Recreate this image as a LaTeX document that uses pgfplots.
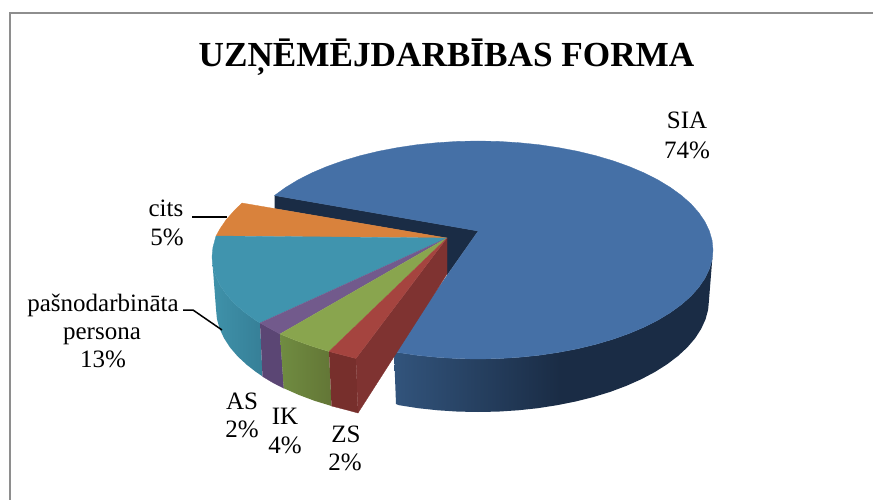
\documentclass[border=0pt]{standalone}
\usepackage{fontspec}
\setmainfont{Liberation Serif}
\usepackage{pgfplots}
\pgfplotsset{compat=1.18}

\definecolor{frame}{HTML}{8E8E8E}
\definecolor{siatop}{HTML}{4570A6}
\definecolor{siaside}{HTML}{32547C}
\definecolor{siadark}{HTML}{1A2C45}
\definecolor{orangetop}{HTML}{D9823C}
\definecolor{tealtop}{HTML}{4094AE}
\definecolor{tealsidea}{HTML}{3F92AA}
\definecolor{tealsideb}{HTML}{367F97}
\definecolor{purpletop}{HTML}{725A8C}
\definecolor{purpleside}{HTML}{5B4674}
\definecolor{greentop}{HTML}{89A54E}
\definecolor{greensidea}{HTML}{708C41}
\definecolor{greensideb}{HTML}{637636}
\definecolor{redtop}{HTML}{A5443F}
\definecolor{redwall}{HTML}{7F3331}
\definecolor{redfront}{HTML}{772F2C}

\pgfdeclarehorizontalshading{siashade}{100bp}{color(0bp)=(siaside); color(25bp)=(siaside); color(51bp)=(siadark); color(100bp)=(siadark)}
\pgfdeclarehorizontalshading{tealshade}{100bp}{color(0bp)=(tealsidea); color(25bp)=(tealsidea); color(75bp)=(tealsideb); color(100bp)=(tealsideb)}
\pgfdeclarehorizontalshading{greenshade}{100bp}{color(0bp)=(greensidea); color(25bp)=(greensidea); color(75bp)=(greensideb); color(100bp)=(greensideb)}

\tikzset{
  lab/.style={anchor=base,inner sep=0pt,font=\fontsize{25}{27}\selectfont},
  ttl/.style={anchor=base,inner sep=0pt,font=\fontsize{35.2}{38}\selectfont\bfseries},
}

\begin{document}
\begin{tikzpicture}
\path[use as bounding box] (0,0) rectangle (873pt,500pt);
\begin{axis}[
  at={(0,0)},
  anchor=south west,
  width=873pt,
  height=500pt,
  scale only axis,
  xmin=0,xmax=873,
  ymin=0,ymax=500,
  y dir=reverse,
  hide axis,
]
% frame
\addplot[frame,line width=2pt] coordinates {(10,500) (10,13) (873,13)};

% SIA: inner wall, outer side, top
\addplot[fill=siadark,draw=siadark,line width=0.3pt] coordinates {(274.5,195.5) (478,231) (447,275) (447,238) (274.5,208.5)};
\addplot[draw=none,shading=siashade] coordinates {
  (394,351) (397.6,352.4) (417.2,355.3) (437.2,357.3) (457.5,358.6) (478,359) (498.5,358.6) (518.8,357.3)
  (538.8,355.3) (558.4,352.4) (577.3,348.8) (595.5,344.4) (612.8,339.3) (629.1,333.5) (644.2,327.1)
  (658,320.1) (670.5,312.5) (681.5,304.5) (691,296.1) (698.8,287.3) (705,278.2) (709.4,268.9) (712.1,259.5) (713,250)
  (709,300) (708.1,309.8) (705.5,319.4) (701.1,329) (695.1,338.3) (687.4,347.3) (678,356) (667.2,364.2)
  (654.9,372) (641.3,379.2) (626.5,385.8) (610.5,391.8) (593.5,397) (575.6,401.5) (557,405.2) (537.8,408.2)
  (518.1,410.3) (498.1,411.6) (478,412) (457.9,411.6) (437.9,410.3) (418.2,408.2) (399,405.2) (396,404)};
\addplot[fill=siatop,draw=siatop,line width=0.3pt] coordinates {
  (478,231) (274.5,195.5) (285.5,187.5) (298,179.9) (311.8,172.9) (326.9,166.5) (343.2,160.7) (360.5,155.6)
  (378.7,151.2) (397.6,147.6) (417.2,144.7) (437.2,142.7) (457.5,141.4) (478,141) (498.5,141.4) (518.8,142.7)
  (538.8,144.7) (558.4,147.6) (577.3,151.2) (595.5,155.6) (612.8,160.7) (629.1,166.5) (644.2,172.9) (658,179.9)
  (670.5,187.5) (681.5,195.5) (691,203.9) (698.8,212.7) (705,221.8) (709.4,231.1) (712.1,240.5) (713,250)
  (712.1,259.5) (709.4,268.9) (705,278.2) (698.8,287.3) (691,296.1) (681.5,304.5) (670.5,312.5) (658,320.1)
  (644.2,327.1) (629.1,333.5) (612.8,339.3) (595.5,344.4) (577.3,348.8) (558.4,352.4) (538.8,355.3) (518.8,357.3)
  (498.5,358.6) (478,359) (457.5,358.6) (437.2,357.3) (417.2,355.3) (397.6,352.4) (394,351)};

% sides of the small slices
\addplot[draw=none,shading=tealshade] coordinates {
  (212,257) (212.9,266.5) (215.6,275.9) (220,285.2) (226.2,294.3) (234,303.1) (243.5,311.5) (254.5,319.5) (260,323)
  (262.5,376.4) (255.5,371.6) (247,365) (237.6,356.3) (229.9,347.3) (223.9,338) (219.5,328.4) (216.9,318.8) (216,309)};
\addplot[fill=purpleside,draw=purpleside,line width=0.3pt] coordinates {
  (260,323) (280,334) (283.7,388.2) (272.6,382.5) (262.5,376.4)};
\addplot[draw=none,shading=greenshade] coordinates {
  (280,334) (295.9,340.5) (312.2,346.3) (329,351.5) (331.5,406) (314.5,400.8) (298.5,394.8) (283.7,388.2)};
\addplot[fill=redfront,draw=redfront,line width=0.3pt] coordinates {
  (329,351.5) (356,358.5) (358,413) (345.8,409.7) (331.5,406)};
\addplot[fill=redwall,draw=redwall,line width=0.3pt] coordinates {
  (356,358.5) (447,238) (447,274) (358,413)};

% tops of the small slices
\addplot[fill=orangetop,draw=orangetop,line width=0.3pt] coordinates {
  (447,238) (242,203) (234,210.9) (226.2,219.7) (220,228.8) (216,236)};
\addplot[fill=tealtop,draw=tealtop,line width=0.3pt] coordinates {
  (447,238) (216,236) (212.9,247.5) (212,257) (212.9,266.5) (215.6,275.9) (220,285.2) (226.2,294.3) (234,303.1)
  (243.5,311.5) (254.5,319.5) (260,323)};
\addplot[fill=purpletop,draw=purpletop,line width=0.3pt] coordinates {
  (447,238) (260,323) (280,334)};
\addplot[fill=greentop,draw=greentop,line width=0.3pt] coordinates {
  (447,238) (280,334) (295.9,340.5) (312.2,346.3) (329,351.5)};
\addplot[fill=redtop,draw=redtop,line width=0.3pt] coordinates {
  (447,238) (329,351.5) (356,358.5)};

% leader lines
\addplot[black,line width=1.5pt] coordinates {(192,217) (227,217)};
\addplot[black,line width=1.5pt] coordinates {(183,310) (193,310) (222,330)};

% texts
\node[ttl] at (axis cs:446.5,67) {UZŅĒMĒJDARBĪBAS FORMA};
\node[lab] at (axis cs:687,129) {SIA};
\node[lab] at (axis cs:687,158) {74\%};
\node[lab] at (axis cs:166,216) {cits};
\node[lab] at (axis cs:167,245) {5\%};
\node[lab] at (axis cs:103,311) {pašnodarbināta};
\node[lab] at (axis cs:102,339) {persona};
\node[lab] at (axis cs:103,367) {13\%};
\node[lab] at (axis cs:242,409) {AS};
\node[lab] at (axis cs:242,437) {2\%};
\node[lab] at (axis cs:285,424) {IK};
\node[lab] at (axis cs:285,453) {4\%};
\node[lab] at (axis cs:346,442) {ZS};
\node[lab] at (axis cs:345,470) {2\%};
\end{axis}
\end{tikzpicture}
\end{document}
